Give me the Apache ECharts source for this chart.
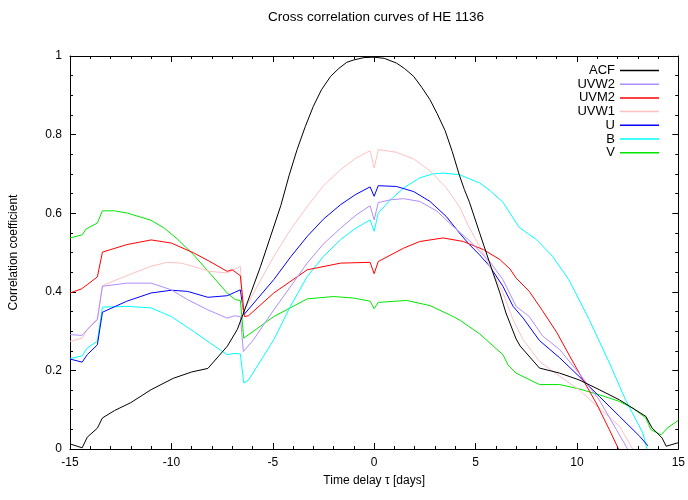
<!DOCTYPE html>
<html>
<head>
<meta charset="utf-8">
<script src="https://cdn.jsdelivr.net/npm/echarts@6/dist/echarts.min.js"></script>
<style>html,body{margin:0;padding:0;background:#fff}#c{width:688px;height:500px}</style>
</head>
<body>
<div id="c"></div>
<script>
// Data: [tau (days), correlation]
const acf = [[-15,0.013],[-14.4,0.003],[-14.15,0.03],[-13.65,0.053],[-13.4,0.079],[-12.8,0.098],[-12,0.118],[-11,0.151],[-9.9,0.18],[-9,0.196],[-8.2,0.205],[-7.25,0.261],[-6.75,0.304],[-6.45,0.345],[-5.6,0.465],[-4.6,0.62],[-4.2,0.695],[-3.8,0.762],[-3.4,0.82],[-3.0,0.872],[-2.6,0.914],[-2.15,0.948],[-1.75,0.968],[-1.35,0.984],[-1.0,0.99],[-0.5,0.996],[0,0.997],[0.5,0.994],[1.1,0.982],[1.5,0.968],[1.95,0.948],[2.35,0.92],[2.75,0.889],[3.1,0.854],[3.5,0.81],[3.85,0.757],[4.2,0.697],[4.45,0.66],[4.7,0.628],[5.2,0.55],[5.7,0.473],[6.2,0.397],[6.5,0.346],[7.0,0.28],[7.2,0.262],[8.15,0.206],[9.15,0.193],[10.1,0.176],[11.1,0.151],[12.1,0.125],[13.4,0.083],[13.7,0.054],[14.2,0.028],[14.4,0.007],[15,0.016]];
const uvw2 = [[-15,0.291],[-14.4,0.289],[-14.15,0.304],[-13.65,0.329],[-13.4,0.414],[-12.2,0.422],[-11,0.422],[-10,0.405],[-9.2,0.38],[-8.2,0.354],[-7.25,0.333],[-6.9,0.339],[-6.6,0.337],[-6.45,0.248],[-5.95,0.278],[-4.95,0.354],[-4.1,0.415],[-3.3,0.473],[-2.5,0.522],[-1.65,0.562],[-0.9,0.595],[-0.2,0.619],[0,0.583],[0.2,0.627],[0.8,0.634],[1.45,0.637],[2.25,0.63],[3.1,0.605],[3.9,0.566],[4.7,0.53],[5.7,0.477],[6.35,0.431],[7.0,0.363],[7.65,0.337],[8.3,0.288],[9.15,0.253],[10.1,0.193],[11.1,0.125],[11.95,0.049],[12.5,0]];
const uvm2 = [[-15,0.397],[-14.45,0.407],[-14.15,0.418],[-13.65,0.438],[-13.4,0.501],[-12.2,0.52],[-11,0.532],[-10,0.524],[-8.9,0.499],[-8.1,0.477],[-7.25,0.452],[-7.0,0.456],[-6.6,0.441],[-6.4,0.337],[-6.2,0.339],[-4.95,0.397],[-3.3,0.456],[-1.65,0.473],[-0.2,0.475],[0,0.446],[0.2,0.477],[1.45,0.511],[2.25,0.528],[3.4,0.537],[4.4,0.528],[5.4,0.507],[6.2,0.482],[6.7,0.458],[7.0,0.435],[7.65,0.401],[8.3,0.352],[9.0,0.297],[9.65,0.236],[10.3,0.176],[10.95,0.117],[11.6,0.049],[12.05,0]];
const uvw1 = [[-15,0.274],[-14.4,0.282],[-14.15,0.304],[-13.65,0.333],[-13.4,0.416],[-12.2,0.441],[-11,0.465],[-10.2,0.475],[-9.5,0.473],[-8.7,0.461],[-8.1,0.452],[-7.25,0.448],[-7.0,0.454],[-6.6,0.465],[-6.45,0.35],[-5.7,0.42],[-4.95,0.49],[-4.1,0.56],[-3.3,0.617],[-2.5,0.67],[-1.65,0.711],[-0.9,0.74],[-0.2,0.759],[0,0.715],[0.2,0.762],[1.1,0.755],[1.95,0.738],[2.75,0.708],[3.55,0.665],[4.2,0.617],[4.7,0.562],[5.2,0.516],[5.7,0.465],[6.35,0.397],[6.85,0.329],[7.35,0.278],[8.15,0.223],[9.15,0.185],[10.1,0.151],[11.1,0.104],[12.1,0.058],[12.75,0]];
const uBand = [[-15,0.229],[-14.4,0.221],[-14.15,0.24],[-13.65,0.265],[-13.4,0.348],[-12.2,0.376],[-11,0.397],[-10,0.404],[-9.2,0.401],[-8.2,0.386],[-7.25,0.39],[-6.9,0.398],[-6.6,0.405],[-6.42,0.342],[-4.95,0.431],[-4.1,0.49],[-3.3,0.541],[-2.5,0.585],[-1.65,0.622],[-0.9,0.648],[-0.2,0.667],[0,0.643],[0.2,0.67],[1.1,0.668],[1.95,0.655],[2.75,0.63],[3.55,0.592],[4.2,0.55],[4.7,0.52],[5.2,0.494],[5.7,0.465],[6.35,0.414],[6.85,0.363],[7.35,0.333],[8.15,0.276],[9.15,0.232],[10.1,0.185],[11.1,0.134],[12.1,0.083],[13.1,0.032],[13.5,0.008]];
const bBand = [[-15,0.23],[-14.4,0.237],[-14.15,0.257],[-13.65,0.274],[-13.4,0.361],[-12.2,0.363],[-11,0.359],[-10,0.337],[-8.9,0.299],[-8.1,0.27],[-7.25,0.24],[-6.9,0.243],[-6.6,0.242],[-6.43,0.168],[-6.2,0.175],[-4.95,0.278],[-4.13,0.363],[-3.3,0.439],[-2.5,0.49],[-1.65,0.533],[-0.9,0.562],[-0.2,0.583],[0,0.554],[0.2,0.6],[0.8,0.634],[1.45,0.664],[2.25,0.69],[2.9,0.7],[3.4,0.702],[4.2,0.698],[5.2,0.677],[5.7,0.658],[6.35,0.628],[7.15,0.564],[8.0,0.533],[8.8,0.49],[9.6,0.431],[10.6,0.33],[11.6,0.219],[12.4,0.125],[13.25,0.041],[13.45,0]];
const vBand = [[-15,0.537],[-14.4,0.545],[-14.2,0.56],[-13.65,0.575],[-13.4,0.606],[-12.8,0.606],[-12.15,0.6],[-11.65,0.592],[-11,0.582],[-10.35,0.562],[-9.7,0.534],[-8.9,0.494],[-8.05,0.444],[-7.25,0.397],[-6.85,0.38],[-6.6,0.378],[-6.43,0.282],[-4.95,0.337],[-3.3,0.382],[-2,0.388],[-1,0.384],[-0.2,0.376],[0,0.357],[0.2,0.373],[1.6,0.378],[2.75,0.365],[3.9,0.337],[4.25,0.327],[5.2,0.293],[6.35,0.24],[6.6,0.214],[7.0,0.193],[8.15,0.164],[9.15,0.164],[10.1,0.153],[11.1,0.138],[12.1,0.121],[12.75,0.104],[13.4,0.079],[13.65,0.049],[14.15,0.036],[14.45,0.053],[15,0.073]];

const seriesNames = ['ACF','UVW2','UVM2','UVW1','U','B','V'];
const seriesData = [acf, uvw2, uvm2, uvw1, uBand, bBand, vBand];
const seriesColors = ['#000000','#b08cff','#ff0000','#ffc0c0','#0000ff','#00ffff','#00e600'];

const FONT = 'Liberation Sans, Arial, sans-serif';
const chart = echarts.init(document.getElementById('c'), null, {renderer:'canvas'});
const axisLine = {show:true, onZero:false, lineStyle:{color:'#000', width:1}};
const axisTick = {show:true, inside:true, length:6, lineStyle:{color:'#000'}};
chart.setOption({
  animation: false,
  title: {
    text: 'Cross correlation curves of HE 1136',
    left: 371, top: 5, textAlign: 'center',
    textStyle: {fontFamily: FONT, fontSize: 13.5, fontWeight: 'normal', color: '#000'}
  },
  grid: {left: 69, right: 9, top: 56, bottom: 51, containLabel: false},
  legend: {
    data: seriesNames,
    orient: 'vertical',
    right: 24, top: 59,
    align: 'right',
    icon: 'rect',
    itemWidth: 39, itemHeight: 1.5, itemGap: 0.7,
    formatter: n => '{a|' + n + '}',
    textStyle: {fontFamily: FONT, fontSize: 13, color: '#000',
      rich: {a: {width: 42, align: 'right', fontFamily: FONT, fontSize: 13, lineHeight: 13.7, color: '#000'}}}
  },
  xAxis: [
    {type:'value', min:-15, max:15, interval:5, position:'bottom',
      axisLine: axisLine, axisTick: axisTick, splitLine:{show:false},
      minorTick:{show:true, splitNumber:5, length:3, lineStyle:{color:'#000'}},
      axisLabel:{fontFamily:FONT, fontSize:12, color:'#000', margin:8},
      name:'Time delay τ [days]', nameLocation:'middle', nameGap:26,
      nameTextStyle:{fontFamily:FONT, fontSize:12, color:'#000'}},
    {type:'value', min:-15, max:15, interval:5, position:'top',
      axisLine: axisLine, axisTick: axisTick,
      minorTick:{show:true, splitNumber:5, length:3, lineStyle:{color:'#000'}},
      axisLabel:{show:false}, splitLine:{show:false}}
  ],
  yAxis: [
    {type:'value', min:0, max:1, interval:0.2, position:'left',
      axisLine: axisLine, axisTick: axisTick,
      minorTick:{show:true, splitNumber:4, length:3, lineStyle:{color:'#000'}},
      splitLine:{show:false},
      axisLabel:{fontFamily:FONT, fontSize:12, color:'#000', margin:8},
      name:'Correlation coefficient', nameLocation:'middle', nameGap:50,
      nameTextStyle:{fontFamily:FONT, fontSize:12, color:'#000'}},
    {type:'value', min:0, max:1, interval:0.2, position:'right',
      axisLine: axisLine, axisTick: axisTick,
      minorTick:{show:true, splitNumber:4, length:3, lineStyle:{color:'#000'}},
      splitLine:{show:false}, axisLabel:{show:false}}
  ],
  series: seriesNames.map((n, i) => ({
    name: n, type: 'line', data: seriesData[i],
    xAxisIndex: 0, yAxisIndex: 0,
    symbol: 'none', smooth: false, clip: true,
    lineStyle: {color: seriesColors[i], width: 1},
    itemStyle: {color: seriesColors[i]},
    z: 10 - i
  }))
});
</script>
</body>
</html>
